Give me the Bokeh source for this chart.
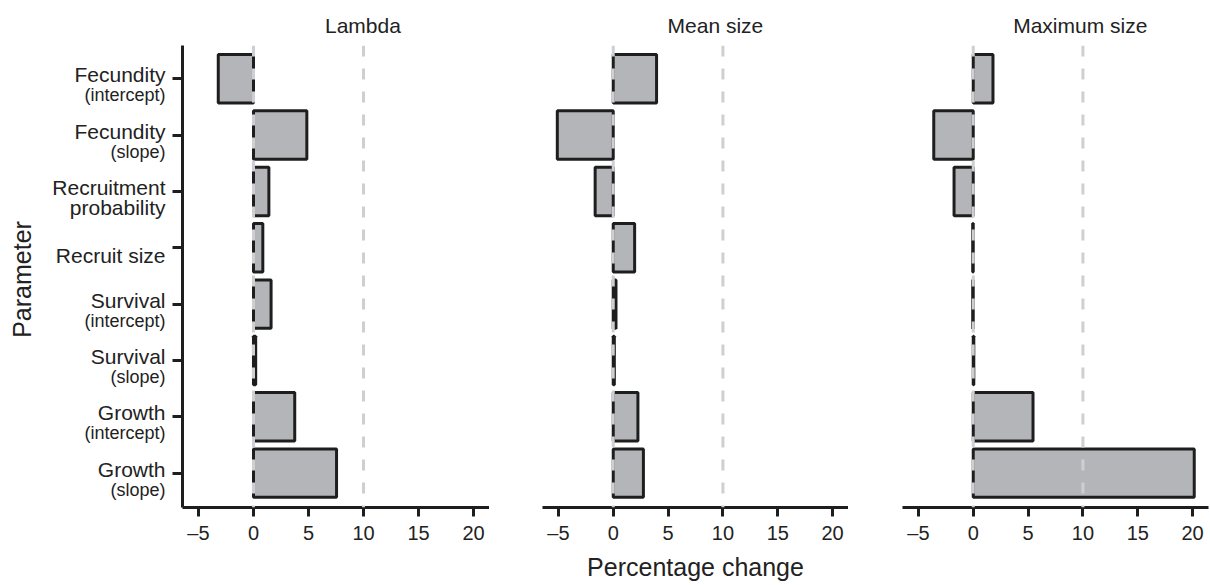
import math
from bokeh.plotting import figure
from bokeh.layouts import row, column
from bokeh.models import Range1d, FixedTicker, Span, ColumnDataSource, Spacer
from bokeh.core.properties import value
from bokeh.embed import file_html
from bokeh.resources import INLINE

# ---------------- data ----------------
param_main = ["Fecundity", "Fecundity", "Recruitment", "Recruit size",
              "Survival", "Survival", "Growth", "Growth"]
param_sub = ["(intercept)", "(slope)", "probability", "",
             "(intercept)", "(slope)", "(intercept)", "(slope)"]
panel_titles = ["Lambda", "Mean size", "Maximum size"]
lambda_vals = [-3.2, 4.85, 1.4, 0.85, 1.6, 0.2, 3.75, 7.55]
mean_size_vals = [3.95, -5.1, -1.65, 1.95, 0.25, 0.1, 2.25, 2.75]
max_size_vals = [1.8, -3.6, -1.75, -0.05, -0.05, 0.05, 5.45, 20.15]
x_ticks = [-5, 0, 5, 10, 15, 20]
x_tick_labels = ["\u20135", "0", "5", "10", "15", "20"]
ref_lines = [0, 10]
x_title = "Percentage change"
y_title = "Parameter"

# ---------------- layout constants ----------------
FONT = "Liberation Sans"
TXT = "#222222"
DARK = "#1e1e1e"
X0, X1 = -6.45, 21.45
Y_TOP, Y_BOT = 0.41, 8.61
HEAD_H = 45
FIG_H = 540
FRAME_H = 462
BORDER_BOTTOM = FIG_H - FRAME_H
PPU_Y = FRAME_H / (Y_BOT - Y_TOP)
LABEL_W = 172

y_range = Range1d(Y_BOT, Y_TOP)


def dy(px):
    return px / PPU_Y


def clean(fig):
    fig.outline_line_color = None
    fig.xgrid.visible = False
    fig.ygrid.visible = False
    return fig


positions = list(range(1, len(param_main) + 1))

# ---------------- label panel (category names + y title) ----------------
lab = clean(figure(width=LABEL_W, height=FIG_H, x_range=Range1d(0, LABEL_W),
                   y_range=y_range, output_backend="svg", toolbar_location=None,
                   min_border_left=0, min_border_right=0,
                   min_border_top=0, min_border_bottom=BORDER_BOTTOM,
                   x_axis_location=None, y_axis_location=None))

main_y, main_t = [], []
sub_small_y, sub_small_t = [], []
sub_big_y, sub_big_t = [], []
for pos, main, sub in zip(positions, param_main, param_sub):
    if sub:
        main_y.append(pos - dy(4))
        main_t.append(main)
        if sub.startswith("("):
            sub_small_y.append(pos + dy(16.5))
            sub_small_t.append(sub)
        else:
            sub_big_y.append(pos + dy(16))
            sub_big_t.append(sub)
    else:
        main_y.append(pos + dy(7.5))
        main_t.append(main)

LAB_X = LABEL_W - 7
lab.text(x=[LAB_X] * len(main_y), y=main_y, text=main_t,
         text_align="right", text_baseline="alphabetic",
         text_font=value(FONT), text_font_size="21px", text_color=TXT)
lab.text(x=[LAB_X] * len(sub_small_y), y=sub_small_y, text=sub_small_t,
         text_align="right", text_baseline="alphabetic",
         text_font=value(FONT), text_font_size="18px", text_color=TXT)
lab.text(x=[LAB_X] * len(sub_big_y), y=sub_big_y, text=sub_big_t,
         text_align="right", text_baseline="alphabetic",
         text_font=value(FONT), text_font_size="21px", text_color=TXT)
lab.text(x=[21], y=[Y_TOP + dy(279 - HEAD_H)], text=[y_title],
         angle=math.pi / 2, text_align="center", text_baseline="middle",
         text_font=value(FONT), text_font_size="25px", text_color=TXT)

# ---------------- the three panels ----------------
values = [lambda_vals, mean_size_vals, max_size_vals]
frame_w = [307, 306, 306]
left_b = [10, 53, 54]
right_b = [0, 0, 2]
title_start = [6.5, 4.95, 3.64]

heads = [Spacer(width=LABEL_W, height=HEAD_H)]
figs = [lab]
for i in range(3):
    x_range = Range1d(X0, X1)
    w = left_b[i] + frame_w[i] + right_b[i]

    # header with the panel title
    h = clean(figure(width=w, height=HEAD_H, x_range=x_range,
                     y_range=Range1d(HEAD_H, 0), output_backend="svg",
                     toolbar_location=None, min_border_left=left_b[i],
                     min_border_right=right_b[i], min_border_top=0,
                     min_border_bottom=0, x_axis_location=None,
                     y_axis_location=None))
    h.text(x=[title_start[i]], y=[25], text=[panel_titles[i]],
           text_align="left", text_baseline="alphabetic",
           text_font=value(FONT), text_font_size="21px", text_color=TXT)
    heads.append(h)

    p = clean(figure(width=w, height=FIG_H, x_range=x_range, y_range=y_range,
                     output_backend="svg", toolbar_location=None,
                     min_border_left=left_b[i], min_border_right=right_b[i],
                     min_border_top=0, min_border_bottom=BORDER_BOTTOM,
                     y_axis_location="left" if i == 0 else None))

    src = ColumnDataSource(dict(y=positions, right=values[i],
                                left=[0] * len(positions)))
    p.hbar(y="y", left="left", right="right", height=0.86, source=src,
           fill_color="#b4b5b8", line_color=DARK, line_width=3)

    for loc in ref_lines:
        p.add_layout(Span(location=loc, dimension="height",
                          line_color="#cfcfd3", line_width=3,
                          line_dash="11 12"))

    xa = p.xaxis[0]
    xa.ticker = FixedTicker(ticks=x_ticks)
    xa.major_label_overrides = {t: l for t, l in zip(x_ticks, x_tick_labels)}
    xa.axis_line_width = 3
    xa.axis_line_color = DARK
    xa.major_tick_line_width = 3
    xa.major_tick_line_color = DARK
    xa.major_tick_out = 9
    xa.major_tick_in = 0
    xa.minor_tick_line_color = None
    xa.major_label_text_font = FONT
    xa.major_label_text_font_size = "20px"
    xa.major_label_text_color = TXT
    xa.major_label_standoff = 5
    if i == 1:
        xa.axis_label = x_title
        xa.axis_label_text_font = FONT
        xa.axis_label_text_font_size = "25px"
        xa.axis_label_text_font_style = "normal"
        xa.axis_label_text_color = TXT
        xa.axis_label_standoff = 6

    if i == 0:
        ya = p.yaxis[0]
        ya.ticker = FixedTicker(ticks=positions)
        ya.major_label_overrides = {k: "" for k in positions}
        ya.major_label_standoff = 0
        ya.axis_line_width = 3
        ya.axis_line_color = DARK
        ya.major_tick_line_width = 3
        ya.major_tick_line_color = DARK
        ya.major_tick_out = 10
        ya.major_tick_in = 0
        ya.minor_tick_line_color = None
    figs.append(p)

layout = column(row(*heads, spacing=0), row(*figs, spacing=0), spacing=0)
open("out.html", "w").write(file_html(layout, INLINE))
